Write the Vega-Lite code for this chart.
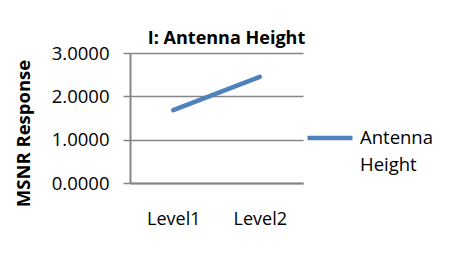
{
  "$schema": "https://vega.github.io/schema/vega-lite/v6.json",
  "autosize": "none",
  "width": 173,
  "height": 130,
  "padding": {"left": 130, "top": 53, "right": 155, "bottom": 75},
  "background": "white",
  "title": {"text": "I: Antenna Height", "font": "Open Sans", "fontSize": 18, "fontWeight": "bold", "color": "black", "anchor": "middle", "offset": -4, "dx": 10},
  "data": {"values": [
    {"level": "Level1", "response": 1.68, "series": "Antenna Height"},
    {"level": "Level2", "response": 2.45, "series": "Antenna Height"}
  ]},
  "mark": {"type": "line", "strokeWidth": 4.5, "strokeCap": "round"},
  "encoding": {
    "x": {"field": "level", "type": "nominal", "scale": {"type": "point", "padding": 0.5},
      "axis": {"title": null, "labelAngle": 0, "labelFont": "Open Sans", "labelFontSize": 18, "labelColor": "black", "ticks": false, "labelPadding": 27, "domainColor": "#868686", "domainWidth": 2, "grid": false}},
    "y": {"field": "response", "type": "quantitative", "scale": {"domain": [0, 3], "nice": false},
      "axis": {"title": "MSNR Response", "titleFont": "Open Sans", "titleFontSize": 18.5, "titleFontWeight": "bold", "titleColor": "black", "titlePadding": 18, "titleY": 80,
        "values": [0, 1, 2, 3], "format": ".4f", "labelFont": "Open Sans", "labelFontSize": 18.5, "labelColor": "black", "labelPadding": 14,
        "tickSize": 7, "tickColor": "#868686", "tickWidth": 1.5, "domainColor": "#868686", "domainWidth": 2,
        "grid": true, "gridColor": "#868686", "gridWidth": 1.5}},
    "color": {"field": "series", "type": "nominal", "scale": {"range": ["#4F81BD"]},
      "legend": {"title": null, "orient": "none", "legendX": 175, "legendY": 60, "symbolType": "stroke", "symbolSize": 2025, "symbolStrokeWidth": 4.5,
        "labelFont": "Open Sans", "labelFontSize": 18.5, "labelColor": "black", "labelExpr": "split(datum.label, ' ')", "labelOffset": 5}}
  },
  "config": {"view": {"stroke": null}, "style": {"guide-label": {"lineHeight": 27}}}
}
